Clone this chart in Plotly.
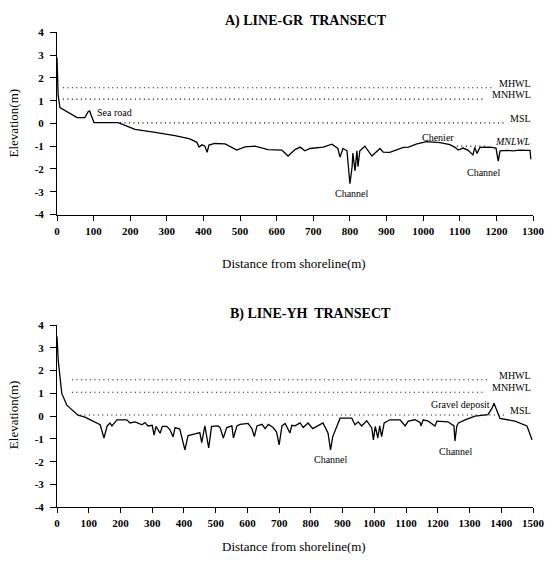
import plotly.graph_objects as go

# ---------------- data ----------------
gr_x = [0, 2, 3, 8, 30, 55, 76, 85, 89, 95, 101, 167, 213, 268, 322, 363, 382, 388, 396, 404,
        410, 415, 431, 459, 491, 513, 541, 576, 614, 631, 650, 664, 677, 691, 727, 751, 767, 773,
        781, 792, 800, 806, 808, 814, 819, 822, 827, 841, 860, 882, 891, 909, 928, 946, 960, 983,
        1010, 1046, 1073, 1087, 1096, 1109, 1122, 1136, 1141, 1147, 1155, 1182, 1199, 1205, 1210,
        1229, 1245, 1264, 1283, 1292, 1294]
gr_y = [2.9, 2.0, 1.26, 0.7, 0.48, 0.26, 0.26, 0.52, 0.55, 0.3, 0.04, 0.04, -0.26, -0.39, -0.53,
        -0.68, -0.83, -1.03, -0.94, -1.0, -1.27, -0.95, -0.88, -0.9, -1.17, -1.03, -1.0, -1.15,
        -1.17, -1.43, -1.15, -1.04, -1.2, -1.1, -1.04, -0.91, -1.1, -1.48, -1.1, -1.2, -2.65,
        -1.9, -1.3, -2.08, -1.2, -1.9, -1.2, -1.0, -1.43, -1.1, -1.26, -1.27, -1.15, -1.05, -1.04,
        -0.9, -0.8, -0.84, -0.93, -1.05, -1.17, -1.08, -1.17, -1.38, -1.05, -1.32, -1.05, -1.04,
        -1.08, -1.65, -1.2, -1.18, -1.2, -1.17, -1.18, -1.18, -1.57]

yh_x = [0, 1, 4, 15, 31, 66, 88, 136, 148, 158, 167, 173, 189, 220, 230, 246, 268, 277, 287,
        300, 306, 312, 325, 332, 346, 356, 366, 372, 387, 403, 413, 435, 450, 456, 466, 478, 487,
        508, 514, 524, 535, 551, 556, 567, 577, 602, 614, 622, 630, 646, 656, 666, 681, 692, 700,
        709, 719, 734, 740, 750, 766, 776, 791, 806, 822, 838, 854, 862, 869, 892, 929, 939, 949,
        960, 976, 992, 997, 1003, 1011, 1017, 1023, 1031, 1049, 1081, 1097, 1107, 1128, 1144,
        1147, 1154, 1170, 1185, 1191, 1197, 1232, 1251, 1254, 1260, 1265, 1286, 1317, 1358, 1371,
        1377, 1387, 1396, 1443, 1481, 1497]
yh_y = [3.5, 3.0, 2.43, 1.0, 0.48, 0.04, -0.04, -0.38, -0.96, -0.43, -0.3, -0.43, -0.16, -0.16,
        -0.3, -0.25, -0.38, -0.28, -0.43, -0.4, -0.83, -0.45, -0.75, -0.45, -0.45, -0.6, -0.91,
        -0.5, -0.57, -1.48, -0.85, -0.78, -0.72, -1.16, -0.43, -1.4, -0.45, -0.43, -0.5, -0.96,
        -0.5, -0.43, -0.96, -0.43, -0.36, -0.32, -0.55, -0.9, -0.43, -0.36, -0.55, -0.36, -0.5,
        -0.7, -1.26, -0.43, -0.32, -0.74, -0.4, -0.43, -0.3, -0.5, -0.3, -0.55, -0.43, -0.3,
        -0.74, -1.48, -0.9, -0.09, -0.09, -0.38, -0.25, -0.43, -0.2, -0.52, -1.04, -0.45, -0.96,
        -0.43, -0.9, -0.3, -0.16, -0.16, -0.43, -0.22, -0.16, -0.28, -0.43, -0.16, -0.22, -0.38,
        -0.43, -0.22, -0.25, -0.43, -1.09, -0.43, -0.3, -0.16, 0.0, 0.07, 0.35, 0.57, 0.22, -0.1,
        -0.22, -0.43, -1.04]

# tidal levels: (name, elevation, start x, end x)
gr_levels = [("MHWL", 1.57, 16, 1188), ("MNHWL", 1.07, 16, 1169), ("MSL", 0.03, 172, 1223),
             ("MNLWL", -1.0, 1092, 1169)]
yh_levels = [("MHWL", 1.6, 47, 1355), ("MNHWL", 1.05, 47, 1343), ("MSL", 0.05, 72, 1410)]

gr_ticks = list(range(0, 1301, 100))
yh_ticks = list(range(0, 1501, 100))
y_ticks = list(range(-4, 5))

FONT = "Liberation Serif"
W, H = 545, 568
L, R = 57, 12


def px2paper_x(px):
    return (px - L) / (W - L - R)


def py2paper_y(py):
    return 1 - py / H


fig = go.Figure()

fig.add_trace(go.Scatter(x=gr_x, y=gr_y, mode="lines", line=dict(color="black", width=1.3),
                         xaxis="x", yaxis="y", showlegend=False, hoverinfo="skip"))
fig.add_trace(go.Scatter(x=yh_x, y=yh_y, mode="lines", line=dict(color="black", width=1.3),
                         xaxis="x2", yaxis="y2", showlegend=False, hoverinfo="skip"))

for levels, xa, ya in [(gr_levels, "x", "y"), (yh_levels, "x2", "y2")]:
    for name, ev, x0, x1 in levels:
        fig.add_trace(go.Scatter(x=[x0, x1], y=[ev, ev], mode="lines",
                                 line=dict(color="black", width=1.2, dash="1px,3.5px"),
                                 xaxis=xa, yaxis=ya, showlegend=False, hoverinfo="skip"))

ann = []
lab_font = dict(family=FONT, size=10, color="black")
for name, ev, x0, x1 in gr_levels:
    txt = name if name != "MNLWL" else "<i>MNLWL</i>"
    ann.append(dict(x=1300, y=ev, xref="x", yref="y", text=txt, showarrow=False,
                    xanchor="right", yanchor="bottom", font=lab_font, yshift=-3))
for name, ev, x0, x1 in yh_levels:
    ann.append(dict(x=1500, y=ev, xref="x2", yref="y2", text=name, showarrow=False,
                    xanchor="right", yanchor="bottom", font=lab_font, yshift=-3))

# feature labels
ann += [
    dict(x=104, y=0.47, xref="x", yref="y", text="Sea road", showarrow=False, font=lab_font,
         xanchor="left", yanchor="middle"),
    dict(x=806, y=-3.09, xref="x", yref="y", text="Channel", showarrow=False, font=lab_font,
         xanchor="center", yanchor="middle"),
    dict(x=1041, y=-0.62, xref="x", yref="y", text="Chenier", showarrow=False, font=lab_font,
         xanchor="center", yanchor="middle"),
    dict(x=1166, y=-2.17, xref="x", yref="y", text="Channel", showarrow=False, font=lab_font,
         xanchor="center", yanchor="middle"),
    dict(x=1370, y=0.52, xref="x2", yref="y2", text="Gravel deposit", showarrow=False,
         xanchor="right", yanchor="middle", font=lab_font),
    dict(x=863, y=-1.9, xref="x2", yref="y2", text="Channel", showarrow=False, font=lab_font,
         xanchor="center", yanchor="middle"),
    dict(x=1257, y=-1.57, xref="x2", yref="y2", text="Channel", showarrow=False, font=lab_font,
         xanchor="center", yanchor="middle"),
]

# titles
title_font = dict(family=FONT, size=14, color="black")
axis_title_font = dict(family=FONT, size=13, color="black")
paper_common = dict(xref="paper", yref="paper", showarrow=False, xanchor="center",
                    yanchor="middle")
ann += [
    dict(paper_common, x=px2paper_x(306), y=py2paper_y(15),
         text="<b>A) LINE-GR\u00a0 TRANSECT</b>", font=title_font),
    dict(paper_common, x=px2paper_x(310), y=py2paper_y(315),
         text="<b>B) LINE-YH\u00a0 TRANSECT</b>", font=title_font),
    dict(paper_common, x=px2paper_x(294), y=py2paper_y(263),
         text="Distance from shoreline(m)", font=axis_title_font),
    dict(paper_common, x=px2paper_x(294), y=py2paper_y(552),
         text="Distance from shoreline(m)", font=axis_title_font),
    dict(paper_common, x=px2paper_x(13), y=py2paper_y(120),
         text="Elevation(m)", textangle=-90, font=axis_title_font),
    dict(paper_common, x=px2paper_x(13), y=py2paper_y(418),
         text="Elevation(m)", textangle=-90, font=axis_title_font),
]

tick_font = dict(family=FONT, size=11, color="black", weight="bold")
common_x = dict(showgrid=False, zeroline=False, showline=True, linecolor="black", linewidth=1,
                ticks="outside", ticklen=5, tickcolor="black", tickwidth=1, tickfont=tick_font,
                ticklabelstandoff=1)
common_y = dict(showgrid=False, zeroline=False, showline=True, linecolor="black", linewidth=1,
                ticks="outside", ticklen=6, tickcolor="black", tickwidth=1, tickfont=tick_font,
                range=[-4, 4], tickvals=y_ticks, ticktext=[str(v) for v in y_ticks],
                ticklabelstandoff=4)

fig.update_layout(
    width=W, height=H,
    margin=dict(l=L, r=R, t=0, b=0),
    paper_bgcolor="white", plot_bgcolor="white",
    xaxis=dict(common_x, domain=[0, 1], range=[0, 1300], tickvals=gr_ticks, anchor="y"),
    yaxis=dict(common_y, domain=[py2paper_y(213), py2paper_y(27)], anchor="x"),
    xaxis2=dict(common_x, domain=[0, 1], range=[0, 1500], tickvals=yh_ticks, anchor="y2"),
    yaxis2=dict(common_y, domain=[py2paper_y(512), py2paper_y(326)], anchor="x2"),
    annotations=ann,
    showlegend=False,
)

fig.write_html("out.html")
